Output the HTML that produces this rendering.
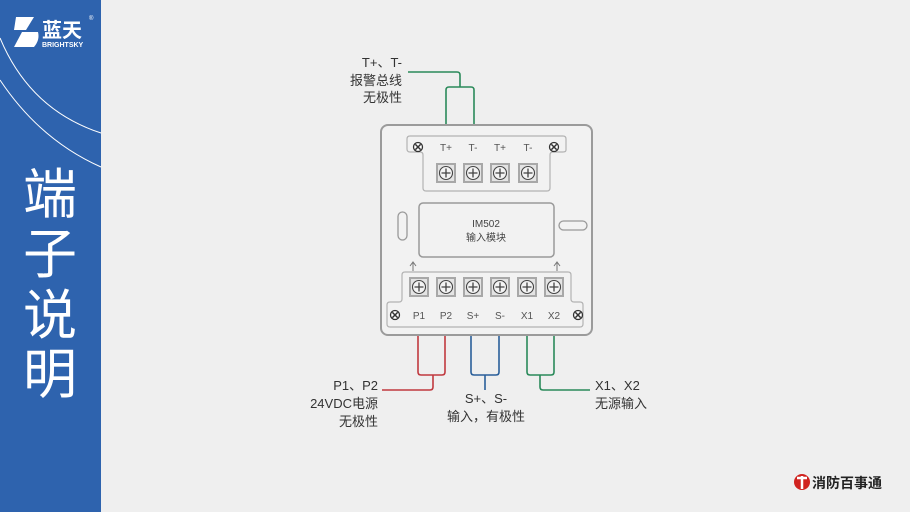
<!DOCTYPE html>
<html><head><meta charset="utf-8"><style>
html,body{margin:0;padding:0;width:910px;height:512px;overflow:hidden;background:#efefef}
svg{display:block}
text{font-family:"Liberation Sans","Noto Sans CJK SC",sans-serif}
</style></head><body>
<svg width="910" height="512" viewBox="0 0 910 512" xmlns="http://www.w3.org/2000/svg">
<defs>
<g id="term"><rect x="-9" y="-9" width="18" height="18" fill="#e4e4e4" stroke="#a8a8a8" stroke-width="2"/><circle r="6.5" fill="#f4f4f4" stroke="#444" stroke-width="1.1"/><path d="M-4.5 0H4.5M0 -4.5V4.5" stroke="#444" stroke-width="1.3"/></g>
<g id="screw"><circle r="4.5" fill="#fff" stroke="#333" stroke-width="1.3"/><path d="M-2.6 -2.6L2.6 2.6M-2.6 2.6L2.6 -2.6" stroke="#333" stroke-width="1.5"/></g>
</defs>
<rect width="910" height="512" fill="#efefef"/>
<rect x="0" y="0" width="101" height="512" fill="#2e63ae"/>
<path d="M0 38 Q30 110 101 133" fill="none" stroke="#fff" stroke-width="1"/>
<path d="M0 80 Q40 140 101 167" fill="none" stroke="#fff" stroke-width="1"/>
<!-- logo -->
<path d="M16 17 H34 L26 30 H14 Z" fill="#fff"/>
<path d="M22 32 H38 Q40 40 34 47 H14 Z" fill="#fff"/>
<text x="42" y="37" font-size="20" font-weight="bold" fill="#fff">蓝天</text>
<text x="42" y="47" font-size="7" font-weight="bold" fill="#fff">BRIGHTSKY</text>
<text x="89" y="20" font-size="6" fill="#fff">®</text>
<g fill="#fff" font-size="54" text-anchor="middle">
<text x="50" y="213">端</text><text x="50" y="273">子</text><text x="50" y="334">说</text><text x="50" y="393">明</text>
</g>
<!-- device -->
<rect x="381" y="125" width="211" height="210" rx="7" fill="#f2f2f2" stroke="#9b9b9b" stroke-width="2"/>
<path d="M410 136 H563 Q566 136 566 139 V150 Q566 152 563 152 H553 Q550 152 550 155 V188 Q550 191 547 191 H426 Q423 191 423 188 V155 Q423 152 420 152 H410 Q407 152 407 149 V139 Q407 136 410 136 Z" fill="#f2f2f2" stroke="#b3b3b3" stroke-width="1.2"/>
<use href="#screw" x="418" y="147"/><use href="#screw" x="554" y="147"/>
<g font-size="10" fill="#555" text-anchor="middle"><text x="446" y="151">T+</text><text x="473" y="151">T-</text><text x="500" y="151">T+</text><text x="528" y="151">T-</text></g>
<use href="#term" x="446" y="173"/><use href="#term" x="473" y="173"/><use href="#term" x="500" y="173"/><use href="#term" x="528" y="173"/>
<rect x="419" y="203" width="135" height="54" rx="4" fill="#f2f2f2" stroke="#999" stroke-width="1.5"/>
<text x="486" y="227" font-size="10" fill="#444" text-anchor="middle">IM502</text>
<text x="486" y="241" font-size="10" fill="#444" text-anchor="middle">输入模块</text>
<rect x="398" y="212" width="9" height="28" rx="4.5" fill="#f2f2f2" stroke="#999" stroke-width="1.3"/>
<rect x="559" y="221" width="28" height="9" rx="4.5" fill="#f2f2f2" stroke="#999" stroke-width="1.3"/>
<path d="M413 271V263M410 266L413 262L416 266" fill="none" stroke="#777" stroke-width="1"/>
<path d="M557 271V263M554 266L557 262L560 266" fill="none" stroke="#777" stroke-width="1"/>
<path d="M405 272 H568 Q571 272 571 275 V299 Q571 302 574 302 H580 Q583 302 583 305 V324 Q583 327 580 327 H390 Q387 327 387 324 V305 Q387 302 390 302 H399 Q402 302 402 299 V275 Q402 272 405 272 Z" fill="#f2f2f2" stroke="#b3b3b3" stroke-width="1.2"/>
<use href="#term" x="419" y="287"/><use href="#term" x="446" y="287"/><use href="#term" x="473" y="287"/><use href="#term" x="500" y="287"/><use href="#term" x="527" y="287"/><use href="#term" x="554" y="287"/>
<g font-size="10" fill="#555" text-anchor="middle"><text x="419" y="319">P1</text><text x="446" y="319">P2</text><text x="473" y="319">S+</text><text x="500" y="319">S-</text><text x="527" y="319">X1</text><text x="554" y="319">X2</text></g>
<use href="#screw" x="395" y="315"/><use href="#screw" x="578" y="315"/>
<!-- wires -->
<g fill="none" stroke-width="1.6">
<path d="M446 124 V90 Q446 87 449 87 H471 Q474 87 474 90 V124 M460 87 V75 Q460 72 457 72 H408" stroke="#2a8a5a"/>
<path d="M418 336 V372 Q418 375 421 375 H442 Q445 375 445 372 V336 M433 375 V387 Q433 390 430 390 H382" stroke="#c0393f"/>
<path d="M471 336 V372 Q471 375 474 375 H496 Q499 375 499 372 V336 M485 375 V390" stroke="#2a5f9a"/>
<path d="M527 336 V372 Q527 375 530 375 H551 Q554 375 554 372 V336 M540 375 V387 Q540 390 543 390 H590" stroke="#2a8a5a"/>
</g>
<g font-size="13" fill="#333">
<text x="402" y="67" text-anchor="end">T+、T-</text>
<text x="402" y="85" text-anchor="end">报警总线</text>
<text x="402" y="102" text-anchor="end">无极性</text>
<text x="378" y="390" text-anchor="end">P1、P2</text>
<text x="378" y="408" text-anchor="end">24VDC电源</text>
<text x="378" y="426" text-anchor="end">无极性</text>
<text x="486" y="403" text-anchor="middle">S+、S-</text>
<text x="486" y="421" text-anchor="middle">输入，有极性</text>
<text x="595" y="390">X1、X2</text>
<text x="595" y="408">无源输入</text>
</g>
<!-- bottom right logo -->
<circle cx="802" cy="482" r="8" fill="#d0231f"/>
<path d="M797 478H807M802 476V489" stroke="#fff" stroke-width="2.5"/>
<text x="812" y="488" font-size="14" font-weight="bold" fill="#222">消防百事通</text>
</svg>
</body></html>
